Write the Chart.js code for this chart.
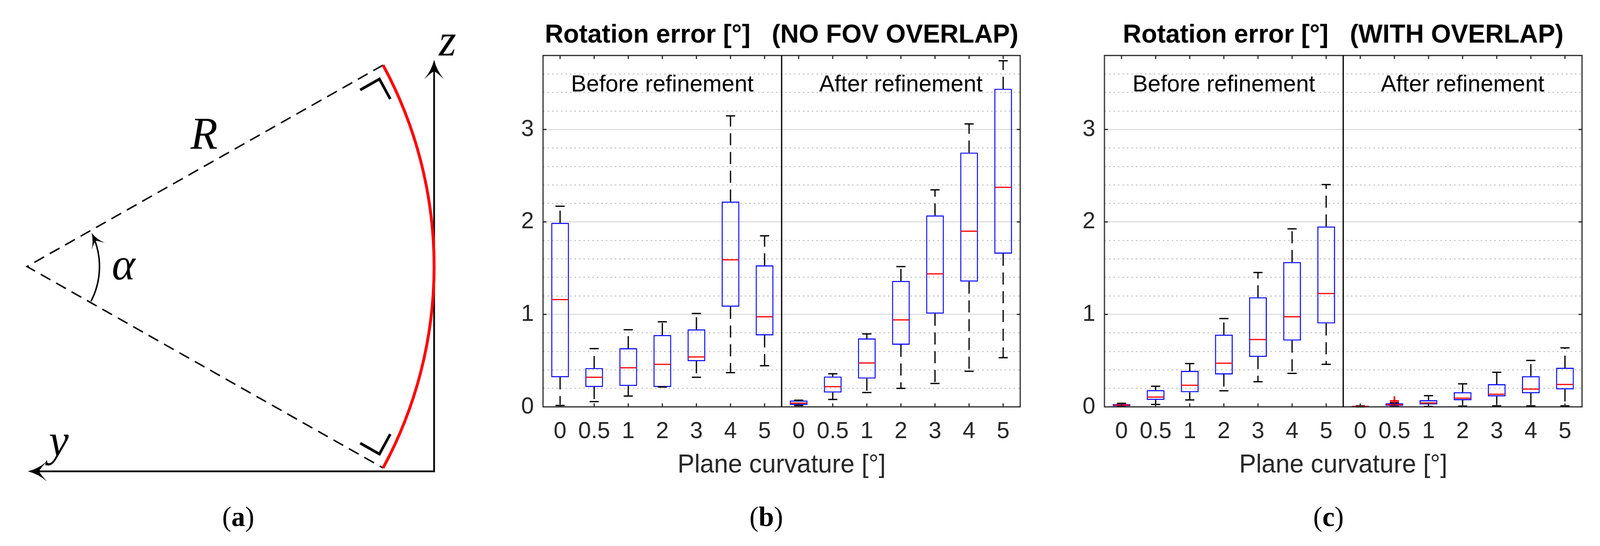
<!DOCTYPE html>
<html>
<head>
<meta charset="utf-8">
<title>Rotation error vs plane curvature</title>
<script src="https://cdn.jsdelivr.net/npm/chart.js@4.4.0/dist/chart.umd.min.js"></script>
<style>
    html, body { margin: 0; padding: 0; background: #fff; overflow: hidden; }
    #stage { width: 4178px; height: 1397px; position: absolute; left: 0; top: 0; transform-origin: 0 0; }
    .panel { position: absolute; top: 0; height: 1397px; }
    .panel canvas { display: block; }
    .sub { position: absolute; top: 1282px; line-height: 80px; font-family: 'Liberation Serif', serif;
           font-size: 72px; color: #000; transform: translateX(-50%); white-space: nowrap; }
</style>
</head>
<body>
<div id="stage">
<div class="panel" style="left:0;width:1300px"><canvas id="diagram" width="1300" height="1397"></canvas></div>
<div class="panel" style="left:1300px;width:1450px"><canvas id="no-overlap" width="1450" height="1397"></canvas></div>
<div class="panel" style="left:2750px;width:1428px"><canvas id="with-overlap" width="1428" height="1397"></canvas></div>
<div class="sub" style="left:622px">(<b>a</b>)</div>
<div class="sub" style="left:2001px">(<b>b</b>)</div>
<div class="sub" style="left:3469px">(<b>c</b>)</div>
</div>

<script>
// Categories: plane curvature [°], first 7 = before refinement, last 7 = after refinement
const curvatureLabels = ['0', '0.5', '1', '2', '3', '4', '5'];
const categories = [...curvatureLabels, ...curvatureLabels];
const groupLabels = ['Before refinement', 'After refinement'];
const yMax = 3.8;
const yStep = 0.2;

// (b) NO FOV OVERLAP - whisker low, Q1, median, Q3, whisker high
const noOverlapMin    = [0.015, 0.057, 0.117, 0.215, 0.32, 0.37, 0.445,   0.015, 0.08, 0.155, 0.2, 0.253, 0.385, 0.532];
const noOverlapQ1     = [0.32, 0.215, 0.226, 0.215, 0.494, 1.083, 0.774,  0.02, 0.155, 0.306, 0.672, 1.008, 1.355, 1.657];
const noOverlapMedian = [1.16, 0.32, 0.423, 0.46, 0.54, 1.59, 0.974,      0.04, 0.219, 0.475, 0.94, 1.438, 1.90, 2.374];
const noOverlapQ3     = [1.99, 0.42, 0.634, 0.777, 0.838, 2.22, 1.53,     0.068, 0.328, 0.74, 1.362, 2.07, 2.75, 3.44];
const noOverlapMax    = [2.17, 0.63, 0.834, 0.92, 1.01, 3.147, 1.85,      0.072, 0.358, 0.789, 1.517, 2.347, 3.06, 3.743];
const noOverlapOutliers = [];

// (c) WITH OVERLAP
const withOverlapMin    = [0.004, 0.026, 0.075, 0.174, 0.272, 0.362, 0.46,   0.0, 0.004, 0.004, 0.008, 0.011, 0.011, 0.011];
const withOverlapQ1     = [0.008, 0.075, 0.158, 0.351, 0.54, 0.717, 0.902,   0.002, 0.011, 0.026, 0.072, 0.113, 0.147, 0.189];
const withOverlapMedian = [0.019, 0.106, 0.234, 0.472, 0.728, 0.974, 1.226,  0.005, 0.023, 0.042, 0.094, 0.136, 0.192, 0.242];
const withOverlapQ3     = [0.03, 0.181, 0.389, 0.781, 1.185, 1.566, 1.951,   0.008, 0.038, 0.072, 0.158, 0.245, 0.332, 0.423];
const withOverlapMax    = [0.038, 0.223, 0.468, 0.955, 1.453, 1.925, 2.404,  0.011, 0.045, 0.121, 0.249, 0.374, 0.502, 0.638];
// [category index, value]
const withOverlapOutliers = [[8, 0.064]];

// (a) diagram geometry, in units of R / 10
const radius = 10;
const halfAngleDeg = 29;
const axisBase = -4.93;   // height of the y axis
const zAxisTop = 4.98;
const yAxisTip = 0.02;
const alphaRadius = 1.78;

const SANS = "'Liberation Sans', Arial, sans-serif";
const SERIF = "'Liberation Serif', 'Times New Roman', serif";
const TEXT_GRAY = '#262626';

function isWhole(v) {
    return Math.abs(v - Math.round(v)) < 1e-6;
}

function line(ctx, x1, y1, x2, y2) {
    ctx.beginPath();
    ctx.moveTo(x1, y1);
    ctx.lineTo(x2, y2);
    ctx.stroke();
}

// Whiskers, caps, medians and outliers on top of the floating bars (boxes)
const boxplotPlugin = {
    id: 'boxplot',
    afterDatasetsDraw(chart, args, opts) {
        const { ctx, scales: { y } } = chart;
        const meta = chart.getDatasetMeta(0);
        ctx.save();
        opts.q1.forEach((q1, i) => {
            const bar = meta.data[i];
            const cx = bar.x;
            const half = bar.width / 2;
            const pMin = y.getPixelForValue(opts.min[i]);
            const pQ1 = y.getPixelForValue(q1);
            const pQ3 = y.getPixelForValue(opts.q3[i]);
            const pMax = y.getPixelForValue(opts.max[i]);
            const pMed = y.getPixelForValue(opts.median[i]);

            ctx.strokeStyle = '#000';
            ctx.lineWidth = 3.3;
            ctx.setLineDash([31, 17]);
            if (pMax < pQ3) line(ctx, cx, pQ3, cx, pMax);
            if (pMin > pQ1) line(ctx, cx, pQ1, cx, pMin);
            ctx.setLineDash([]);
            line(ctx, cx - 12, pMax, cx + 12, pMax);
            line(ctx, cx - 12, pMin, cx + 12, pMin);

            ctx.strokeStyle = '#ff0000';
            ctx.lineWidth = 3;
            line(ctx, cx - half + 1.5, pMed, cx + half - 1.5, pMed);
        });
        (opts.outliers || []).forEach(([i, v]) => {
            const cx = meta.data[i].x;
            const py = y.getPixelForValue(v);
            ctx.strokeStyle = '#ff0000';
            ctx.lineWidth = 4;
            line(ctx, cx - 12, py, cx + 12, py);
            line(ctx, cx, py - 12, cx, py + 12);
        });
        ctx.restore();
    }
};

// Frame, divider, inward ticks and group labels
const framePlugin = {
    id: 'frame',
    afterDraw(chart) {
        const { ctx, chartArea: a, scales: { x, y } } = chart;
        ctx.save();
        ctx.strokeStyle = TEXT_GRAY;
        ctx.lineWidth = 3;
        ctx.strokeRect(a.left, a.top, a.right - a.left, a.bottom - a.top);

        // tick marks pointing inward
        categories.forEach((c, i) => {
            const px = x.getPixelForValue(i);
            line(ctx, px, a.bottom, px, a.bottom - 9);
            line(ctx, px, a.top, px, a.top + 9);
        });
        y.ticks.forEach(t => {
            if (!isWhole(t.value) || t.value <= 0) return;
            const py = y.getPixelForValue(t.value);
            line(ctx, a.left, py, a.left + 9, py);
            line(ctx, a.right, py, a.right - 9, py);
        });

        // divider between before / after refinement
        const mid = (x.getPixelForValue(6) + x.getPixelForValue(7)) / 2;
        ctx.strokeStyle = '#000';
        ctx.lineWidth = 3.3;
        line(ctx, mid, a.top, mid, a.bottom);

        ctx.fillStyle = '#000';
        ctx.font = `60px ${SANS}`;
        ctx.textAlign = 'center';
        ctx.textBaseline = 'alphabetic';
        ctx.fillText(groupLabels[0], (a.left + mid) / 2, 234);
        ctx.fillText(groupLabels[1], (mid + a.right) / 2, 234);
        ctx.restore();
    }
};

function makeBoxChart(canvasId, titleText, stats, yAxisWidth, rightPad) {
    const ctx = document.getElementById(canvasId).getContext('2d');
    return new Chart(ctx, {
        type: 'bar',
        data: {
            labels: categories,
            datasets: [{
                data: categories.map((c, i) => [stats.q1[i], stats.q3[i]]),
                backgroundColor: 'rgba(0,0,0,0)',
                borderColor: '#0000ff',
                borderWidth: 2.7,
                borderSkipped: false,
                barPercentage: 0.52,
                categoryPercentage: 1
            }]
        },
        options: {
            responsive: false,
            animation: false,
            devicePixelRatio: 1,
            layout: { padding: { left: 0, right: rightPad, top: 0, bottom: 0 } },
            plugins: {
                legend: { display: false },
                tooltip: { enabled: false },
                title: {
                    display: true,
                    text: titleText,
                    fullSize: false,
                    color: '#000',
                    font: { family: SANS, size: 67, weight: 'bold' },
                    padding: { top: 50.8, bottom: 10.8 }
                },
                boxplot: stats
            },
            scales: {
                x: {
                    type: 'category',
                    offset: true,
                    grid: { display: false, drawTicks: false },
                    border: { display: false },
                    ticks: {
                        color: TEXT_GRAY,
                        font: { family: SANS, size: 60 },
                        padding: 27,
                        maxRotation: 0,
                        autoSkip: false
                    },
                    title: {
                        display: true,
                        text: 'Plane curvature [°]',
                        color: TEXT_GRAY,
                        font: { family: SANS, size: 66 },
                        padding: { top: 0, bottom: 166.4 }
                    },
                    afterFit: s => { s.height = 356; }
                },
                y: {
                    min: 0,
                    max: yMax,
                    grid: {
                        drawTicks: false,
                        color: c => {
                            const v = c.tick.value;
                            if (v <= 1e-6 || v >= yMax - 1e-6) return 'rgba(0,0,0,0)';
                            return isWhole(v) ? '#dcdcdc' : '#c4c4c4';
                        },
                        lineWidth: 2.7
                    },
                    border: {
                        display: false,
                        dash: c => (isWhole(c.tick.value) ? [] : [4, 7.7])
                    },
                    ticks: {
                        stepSize: yStep,
                        autoSkip: false,
                        color: TEXT_GRAY,
                        font: { family: SANS, size: 60 },
                        padding: 24,
                        callback: v => (isWhole(v) ? String(Math.round(v)) : '')
                    },
                    afterFit: s => { s.width = yAxisWidth; }
                }
            }
        },
        plugins: [boxplotPlugin, framePlugin]
    });
}

// ---------- (a) diagram ----------
const halfAngle = halfAngleDeg * Math.PI / 180;
const endX = radius * Math.cos(halfAngle);
const endY = radius * Math.sin(halfAngle);

function rightAngleMarker(sign) {
    // corner sits just inside the wedge, legs along radial and tangent directions
    const tx = Math.sin(halfAngle), ty = -sign * Math.cos(halfAngle);
    const rx = -Math.cos(halfAngle), ry = -sign * Math.sin(halfAngle);
    const cx = endX + 0.25 * tx + 0.24 * rx;
    const cy = sign * endY + 0.25 * ty + 0.24 * ry;
    return [
        { x: cx + 0.54 * rx, y: cy + 0.54 * ry },
        { x: cx, y: cy },
        { x: cx + 0.55 * tx, y: cy + 0.55 * ty }
    ];
}

function arrowHead(ctx, tipX, tipY, dirX, dirY, len, halfW) {
    const px = -dirY, py = dirX;
    const bx = tipX - dirX * len, by = tipY - dirY * len;
    const nx = tipX - dirX * len * 0.6, ny = tipY - dirY * len * 0.6;
    ctx.beginPath();
    ctx.moveTo(tipX, tipY);
    ctx.quadraticCurveTo(tipX - dirX * len * 0.55 + px * halfW * 0.25, tipY - dirY * len * 0.55 + py * halfW * 0.25,
                         bx + px * halfW, by + py * halfW);
    ctx.quadraticCurveTo(nx + px * halfW * 0.15, ny + py * halfW * 0.15, nx, ny);
    ctx.quadraticCurveTo(nx - px * halfW * 0.15, ny - py * halfW * 0.15, bx - px * halfW, by - py * halfW);
    ctx.quadraticCurveTo(tipX - dirX * len * 0.55 - px * halfW * 0.25, tipY - dirY * len * 0.55 - py * halfW * 0.25,
                         tipX, tipY);
    ctx.fill();
}

const diagramPlugin = {
    id: 'diagram',
    afterDatasetsDraw(chart) {
        const { ctx, scales: { x, y } } = chart;
        const ox = x.getPixelForValue(0), oy = y.getPixelForValue(0);
        const rPix = x.getPixelForValue(radius) - ox;
        ctx.save();

        // red curved plane
        ctx.strokeStyle = '#ff0000';
        ctx.lineWidth = 7.5;
        ctx.beginPath();
        ctx.arc(ox, oy, rPix, -halfAngle, halfAngle);
        ctx.stroke();

        // alpha arc with arrow
        const aPix = x.getPixelForValue(alphaRadius) - ox;
        const a0 = 28 * Math.PI / 180, a1 = -27 * Math.PI / 180;
        ctx.strokeStyle = '#000';
        ctx.fillStyle = '#000';
        ctx.lineWidth = 4;
        ctx.beginPath();
        ctx.arc(ox, oy, aPix, a0, a1 + 0.1, true);
        ctx.stroke();
        arrowHead(ctx, ox + aPix * Math.cos(a1), oy + aPix * Math.sin(a1),
                  Math.sin(a1), -Math.cos(a1), 38, 19);

        // axis arrows
        arrowHead(ctx, x.getPixelForValue(radius), y.getPixelForValue(zAxisTop), 0, -1, 50, 26);
        arrowHead(ctx, x.getPixelForValue(yAxisTip), y.getPixelForValue(axisBase), -1, 0, 50, 26);

        // symbols
        ctx.font = `italic 116px ${SERIF}`;
        ctx.textAlign = 'center';
        ctx.textBaseline = 'middle';
        ctx.fillText('R', x.getPixelForValue(4.35), y.getPixelForValue(3.12));
        ctx.fillText('α', x.getPixelForValue(2.37), y.getPixelForValue(-0.02));
        ctx.fillText('y', x.getPixelForValue(0.78), y.getPixelForValue(-4.27));
        ctx.fillText('z', x.getPixelForValue(10.33), y.getPixelForValue(5.37));
        ctx.restore();
    }
};

function makeDiagram() {
    const ctx = document.getElementById('diagram').getContext('2d');
    const common = { showLine: true, pointRadius: 0, borderColor: '#000', fill: false };
    new Chart(ctx, {
        type: 'scatter',
        data: {
            datasets: [
                { ...common, borderWidth: 3.8, borderDash: [29, 17],
                  data: [{ x: endX, y: endY }, { x: 0, y: 0 }, { x: endX, y: -endY }] },
                { ...common, borderWidth: 4.5,
                  data: [{ x: radius, y: zAxisTop - 0.2 }, { x: radius, y: axisBase }, { x: yAxisTip + 0.2, y: axisBase }] },
                { ...common, borderWidth: 7, data: rightAngleMarker(1) },
                { ...common, borderWidth: 7, data: rightAngleMarker(-1) }
            ]
        },
        options: {
            responsive: false,
            animation: false,
            devicePixelRatio: 1,
            layout: { padding: 0 },
            plugins: { legend: { display: false }, tooltip: { enabled: false } },
            scales: {
                x: { display: false, min: -70.5 / 106.3, max: (1300 - 70.5) / 106.3 },
                y: { display: false, min: -(1397 - 682) / 106.3, max: 682 / 106.3 }
            }
        },
        plugins: [diagramPlugin]
    });
}

// The viewport can be narrower than 4178px: fit the whole stage into it
function fitStage() {
    const sx = window.innerWidth / 4178;
    const sy = window.innerHeight / 1397;
    document.getElementById('stage').style.transform = `scale(${sx}, ${sy})`;
}

document.addEventListener('DOMContentLoaded', () => {
    fitStage();
    makeDiagram();
    makeBoxChart('no-overlap', 'Rotation error [°]   (NO FOV OVERLAP)', {
        min: noOverlapMin, q1: noOverlapQ1, median: noOverlapMedian,
        q3: noOverlapQ3, max: noOverlapMax, outliers: noOverlapOutliers
    }, 118, 86);
    makeBoxChart('with-overlap', 'Rotation error [°]   (WITH OVERLAP)', {
        min: withOverlapMin, q1: withOverlapQ1, median: withOverlapMedian,
        q3: withOverlapQ3, max: withOverlapMax, outliers: withOverlapOutliers
    }, 134, 47);
});
</script>
</body>
</html>
